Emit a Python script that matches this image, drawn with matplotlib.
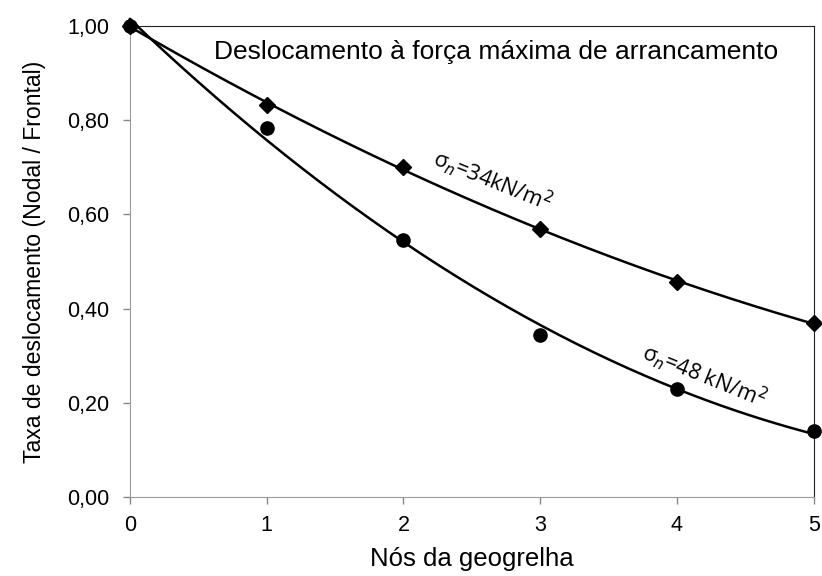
import numpy as np
import matplotlib
matplotlib.use("Agg")
import matplotlib.pyplot as plt

plt.rcParams['font.family'] = ['Liberation Sans', 'DejaVu Sans']

nodes = [0, 1, 2, 3, 4, 5]
ratio_34 = [1.00, 0.832, 0.700, 0.569, 0.456, 0.369]
ratio_48 = [1.00, 0.783, 0.546, 0.344, 0.229, 0.140]
yticks = [0.0, 0.2, 0.4, 0.6, 0.8, 1.0]
ytick_labels = ['0,00', '0,20', '0,40', '0,60', '0,80', '1,00']

fig = plt.figure(figsize=(8.22, 5.76), dpi=100)
ax = fig.add_axes([0.158, 0.137, 0.832, 0.818])

# quadratic trend lines through each series, plus the measured points
xs = np.linspace(0, 5, 200)
for data, marker in ((ratio_34, 'D'), (ratio_48, 'o')):
    coef = np.polyfit(nodes, data, 2)
    ax.plot(xs, np.polyval(coef, xs), color='black', lw=1.8, clip_on=False)
    ax.plot(nodes, data, linestyle='none', marker=marker, color='black',
            markersize=8.5 if marker == 'D' else 9.5, clip_on=False, zorder=5)

ax.set_xlim(0, 5)
ax.set_ylim(0, 1)
ax.set_xticks(nodes)
ax.set_yticks(yticks)
ax.set_yticklabels(ytick_labels)
ax.tick_params(axis='both', labelsize=15.5, color='#888888', length=5, width=1)
ax.tick_params(axis='x', pad=8)
ax.tick_params(axis='y', pad=10)
for side in ('left', 'bottom'):
    ax.spines[side].set_color('#999999')
for side in ('top', 'right'):
    ax.spines[side].set_color('#222222')

ax.set_xlabel('Nós da geogrelha', fontsize=18.5, labelpad=8)
ax.set_ylabel('Taxa de deslocamento (Nodal / Frontal)', fontsize=16.6, labelpad=15)

ax.text(2.68, 0.945, 'Deslocamento à força máxima de arrancamento',
        ha='center', va='center', fontsize=19)
ax.text(2.65, 0.672, r'σ$_n$=34kN/m$^2$', ha='center', va='center',
        fontsize=15.5, rotation=-22, family=['Open Sans', 'DejaVu Sans'])
ax.text(4.2, 0.258, r'σ$_n$=48 kN/m$^2$', ha='center', va='center',
        fontsize=15.5, rotation=-22, family=['Open Sans', 'DejaVu Sans'])

fig.savefig('out.png', dpi=100)
